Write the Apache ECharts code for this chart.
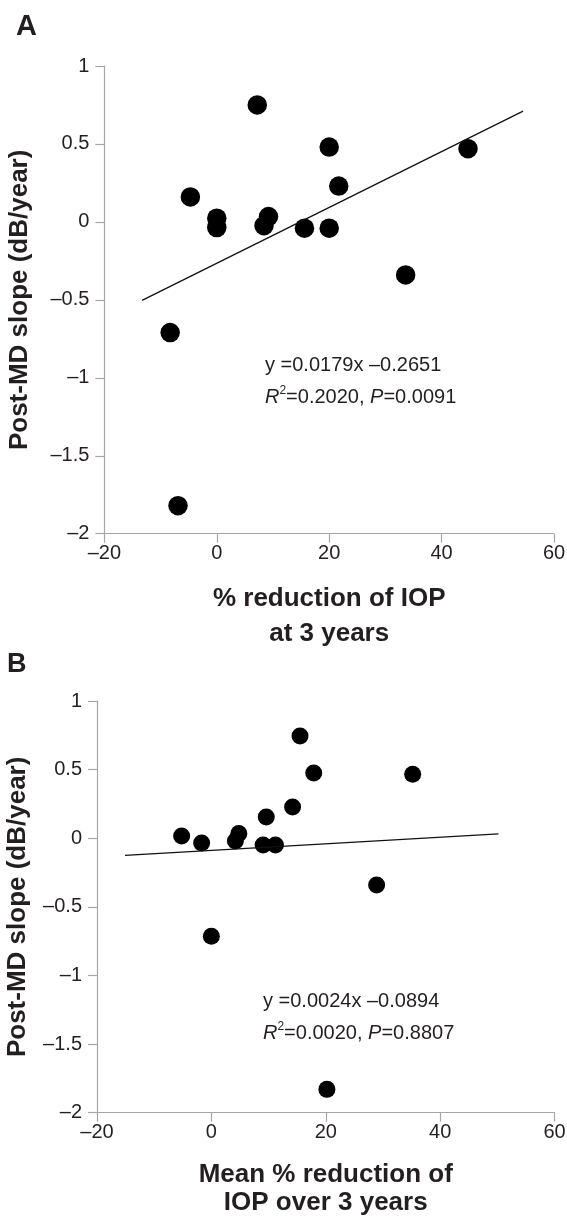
<!DOCTYPE html>
<html><head><meta charset="utf-8">
<script src="https://cdn.jsdelivr.net/npm/echarts@6/dist/echarts.min.js"></script>
<style>html,body{margin:0;padding:0;background:#fff}#c{width:567px;height:1218px}</style>
</head><body><div id="c"></div>
<script>
// Panel A: % reduction of IOP at 3 years vs post-MD slope
const xA = [7.2, -4.7, 0.0, 0.0, 9.2, 8.4, 15.6, 20.0, 20.0, 21.7, 33.6, 44.7, -8.3, -6.9];
const yA = [0.75, 0.16, 0.024, -0.036, 0.034, -0.024, -0.04, 0.48, -0.04, 0.23, -0.34, 0.47, -0.71, -1.82];
const fitA = {slope: 0.0179, intercept: -0.2651, xFrom: -13.3, xTo: 54.5};
// Panel B: mean % reduction of IOP over 3 years vs post-MD slope
const xB = [15.5, 17.9, 35.2, 14.2, 9.6, -5.2, -1.7, 4.8, 4.2, 9.05, 11.2, 28.9, 0.0, 20.2];
const yB = [0.745, 0.476, 0.466, 0.228, 0.155, 0.017, -0.034, 0.034, -0.02, -0.05, -0.05, -0.34, -0.714, -1.83];
const fitB = {slope: 0.0024, intercept: -0.0894, xFrom: -15.1, xTo: 50.2};
const xTicks = [-20, 0, 20, 40, 60];
const yTicks = [-2, -1.5, -1, -0.5, 0, 0.5, 1];
const textA = ['y =0.0179x \u20130.2651', 'R', '2', '=0.2020, ', 'P', '=0.0091'];
const textB = ['y =0.0024x \u20130.0894', 'R', '2', '=0.0020, ', 'P', '=0.8807'];

const FONT = 'Liberation Sans, Arial, Helvetica, sans-serif';
const fmt = v => (v < 0 ? '\u2013' + String(-v) : String(v));
const pts = (xs, ys) => xs.map((x, i) => [x, ys[i]]);
const fitLine = f => [[f.xFrom, f.slope * f.xFrom + f.intercept], [f.xTo, f.slope * f.xTo + f.intercept]];

function xAxis(idx, name, gap, lh) {
  return {
    gridIndex: idx, type: 'value', min: xTicks[0], max: xTicks[xTicks.length - 1], interval: 20,
    name: name, nameLocation: 'middle', nameGap: gap,
    nameTextStyle: {fontFamily: FONT, fontSize: 26, fontWeight: 'bold', color: '#231f20', lineHeight: lh},
    axisLine: {onZero: false, lineStyle: {color: '#a6a6a6', width: 1.2}},
    axisTick: {length: 9, lineStyle: {color: '#a6a6a6', width: 1.2}},
    axisLabel: {fontFamily: FONT, fontSize: 20, color: '#231f20', margin: 10, formatter: fmt},
    splitLine: {show: false}
  };
}
function yAxis(idx, gap) {
  return {
    gridIndex: idx, type: 'value', min: yTicks[0], max: yTicks[yTicks.length - 1], interval: 0.5,
    name: 'Post-MD slope (dB/year)', nameLocation: 'middle', nameGap: gap, nameRotate: 90,
    nameTextStyle: {fontFamily: FONT, fontSize: 26, fontWeight: 'bold', color: '#231f20'},
    axisLine: {show: true, onZero: false, lineStyle: {color: '#a6a6a6', width: 1.2}},
    axisTick: {show: true, length: 9, lineStyle: {color: '#a6a6a6', width: 1.2}},
    axisLabel: {fontFamily: FONT, fontSize: 20, color: '#231f20', margin: 15, formatter: fmt},
    splitLine: {show: false}
  };
}
function annot(t, x, y1, y2) {
  return [
    {type: 'text', left: x, top: y1, style: {text: t[0], font: '20px ' + FONT, fill: '#231f20'}},
    {type: 'text', left: x, top: y2, style: {
      text: '{i|' + t[1] + '}{s|' + t[2] + '}{n|' + t[3] + '}{i|' + t[4] + '}{n|' + t[5] + '}',
      rich: {
        i: {fontFamily: FONT, fontSize: 20, fontStyle: 'italic', fill: '#231f20', lineHeight: 24},
        n: {fontFamily: FONT, fontSize: 20, fill: '#231f20', lineHeight: 24},
        s: {fontFamily: FONT, fontSize: 12, fill: '#231f20', lineHeight: 24, verticalAlign: 'top', padding: [0, 0, 10, 0]}
      }
    }}
  ];
}

const chart = echarts.init(document.getElementById('c'), null, {renderer: 'canvas'});
chart.setOption({
  animation: false,
  backgroundColor: '#fff',
  grid: [
    {left: 104.4, right: 13, top: 66, height: 467.7, containLabel: false, outerBoundsMode: 'none'},
    {left: 97, right: 12.5, top: 701, height: 411.7, containLabel: false, outerBoundsMode: 'none'}
  ],
  xAxis: [xAxis(0, '% reduction of IOP\nat 3 years', 48, 35), xAxis(1, 'Mean % reduction of\nIOP over 3 years', 48, 28)],
  yAxis: [yAxis(0, 72), yAxis(1, 66)],
  series: [
    {type: 'line', xAxisIndex: 0, yAxisIndex: 0, data: fitLine(fitA), showSymbol: false, symbol: 'none',
      lineStyle: {color: '#111', width: 1.3}, silent: true},
    {type: 'scatter', xAxisIndex: 0, yAxisIndex: 0, data: pts(xA, yA), symbolSize: 19.5,
      itemStyle: {color: '#000', opacity: 1}},
    {type: 'line', xAxisIndex: 1, yAxisIndex: 1, data: fitLine(fitB), showSymbol: false, symbol: 'none',
      lineStyle: {color: '#111', width: 1.3}, silent: true},
    {type: 'scatter', xAxisIndex: 1, yAxisIndex: 1, data: pts(xB, yB), symbolSize: 17,
      itemStyle: {color: '#000', opacity: 1}}
  ],
  graphic: [
    {type: 'text', left: 16, top: 12, style: {text: 'A', font: 'bold 29px ' + FONT, fill: '#231f20'}},
    {type: 'text', left: 7, top: 651, style: {text: 'B', font: 'bold 27px ' + FONT, fill: '#231f20'}},
    ...annot(textA, 265, 355, 385),
    ...annot(textB, 263, 991, 1021)
  ]
});
</script></body></html>
